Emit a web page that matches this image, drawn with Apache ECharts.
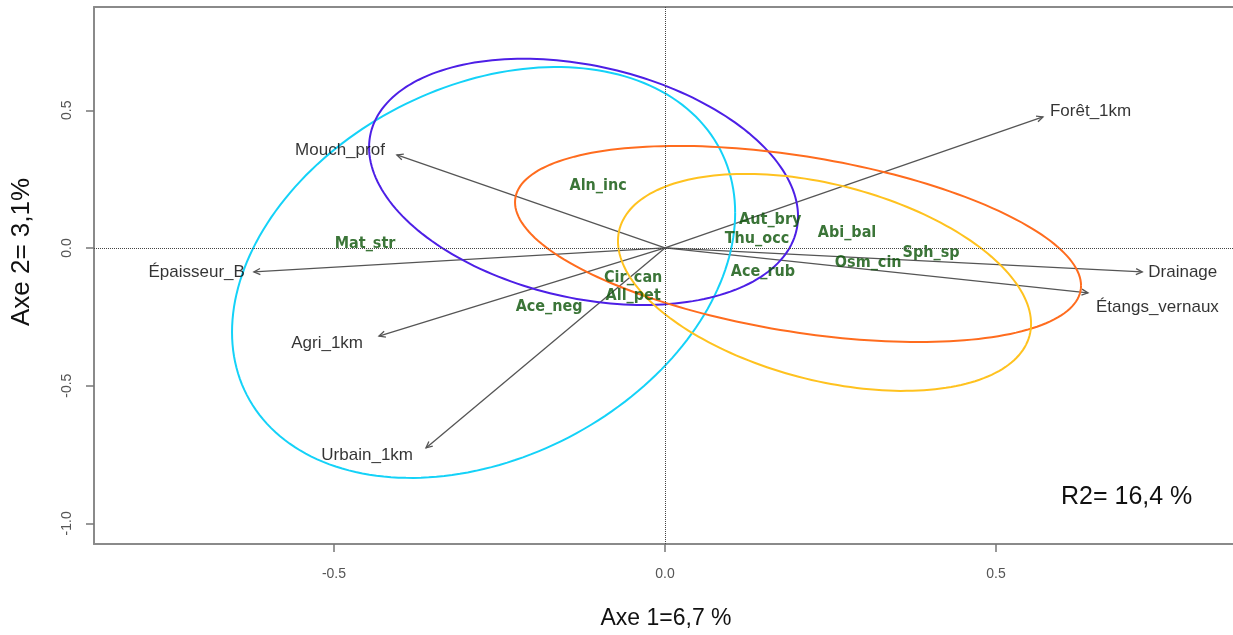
<!DOCTYPE html>
<html>
<head>
<meta charset="utf-8">
<script src="https://cdn.jsdelivr.net/npm/echarts@6/dist/echarts.min.js"></script>
<style>
  html, body { margin: 0; padding: 0; background: #fff; }
  #chart { width: 1233px; height: 635px; }
</style>
</head>
<body>
<div id="chart"></div>
<script>
// ---------- DATA ----------
const xTicks = [-0.5, 0.0, 0.5];
const yTicks = [-1.0, -0.5, 0.0, 0.5];

// Environmental vectors (arrow tips, RDA axes 1 & 2)
const envNames = ['Forêt_1km', 'Mouch_prof', 'Épaisseur_B', 'Agri_1km', 'Urbain_1km', 'Drainage', 'Étangs_vernaux'];
const envX = [0.571, -0.405, -0.621, -0.432, -0.361, 0.721, 0.639];
const envY = [0.476, 0.338, -0.087, -0.320, -0.726, -0.087, -0.163];

// Species scores
const sppNames = ['Aln_inc', 'Mat_str', 'Aut_bry', 'Thu_occ', 'Abi_bal', 'Sph_sp', 'Osm_cin', 'Ace_rub', 'Cir_can', 'All_pet', 'Ace_neg'];
const sppX = [-0.101, -0.453, 0.159, 0.139, 0.275, 0.402, 0.307, 0.148, -0.048, -0.048, -0.175];
const sppY = [0.225, 0.015, 0.102, 0.033, 0.054, -0.018, -0.055, -0.087, -0.109, -0.174, -0.214];

// Group ellipses: centre, half-extent in x and y, correlation
const ellCx = [-0.274, -0.123, 0.201, 0.241];
const ellCy = [-0.089, 0.240, 0.0145, -0.125];
const ellSx = [0.380, 0.324, 0.4275, 0.312];
const ellSy = [0.746, 0.447, 0.356, 0.394];
const ellR  = [0.29, -0.28, -0.425, -0.381];

// ---------- STYLE ----------
const ellColors = ['#14d2f8', '#4d1fe6', '#ff6c1e', '#ffc21f'];
const envLabelPos = [
  { position: 'right', offset: [2, -6] },
  { position: 'left', offset: [-7, -5] },
  { position: 'left', offset: [-4, 0] },
  { position: 'left', offset: [-11, 7] },
  { position: 'left', offset: [-8, 7] },
  { position: 'right', offset: [1, 0] },
  { position: 'right', offset: [3, 14] }
];
const arrowColor = '#555555';
const sppColor = '#0a5206';
const boxLine = { color: '#8a8a8a', width: 2 };

const chart = echarts.init(document.getElementById('chart'), null, { renderer: 'canvas' });

function renderEllipse(params, api) {
  const cx = api.value(0), cy = api.value(1), sx = api.value(2), sy = api.value(3), r = api.value(4);
  const k = Math.sqrt(1 - r * r);
  const pts = [];
  const n = 200;
  for (let j = 0; j <= n; j++) {
    const t = 2 * Math.PI * j / n;
    pts.push(api.coord([cx + sx * Math.cos(t), cy + sy * (r * Math.cos(t) + k * Math.sin(t))]));
  }
  return {
    type: 'polyline',
    shape: { points: pts },
    style: { stroke: ellColors[params.dataIndex], lineWidth: 2, fill: null }
  };
}

function renderArrow(params, api) {
  const p0 = api.coord([0, 0]);
  const p1 = api.coord([api.value(0), api.value(1)]);
  const ang = Math.atan2(p1[1] - p0[1], p1[0] - p0[0]);
  const L = 7, a = Math.PI / 7;
  const h1 = [p1[0] - L * Math.cos(ang - a), p1[1] - L * Math.sin(ang - a)];
  const h2 = [p1[0] - L * Math.cos(ang + a), p1[1] - L * Math.sin(ang + a)];
  return {
    type: 'group',
    children: [
      { type: 'line', shape: { x1: p0[0], y1: p0[1], x2: p1[0], y2: p1[1] }, style: { stroke: arrowColor, lineWidth: 1.3 } },
      { type: 'polyline', shape: { points: [h1, p1, h2] }, style: { stroke: arrowColor, lineWidth: 1.3, fill: null } }
    ]
  };
}

const xMin = -0.8625, pxPerX = 662, gridW = 1139;
const xMax = xMin + gridW / pxPerX;
const option = {
  animation: false,
  backgroundColor: '#ffffff',
  grid: { left: 94, top: 7, width: gridW, height: 537, show: false },
  xAxis: [
    {
      type: 'value', min: xMin, max: xMax, position: 'bottom',
      axisLine: { show: true, onZero: false, lineStyle: boxLine },
      splitLine: { show: false },
      axisTick: { show: true, customValues: xTicks, length: 8, lineStyle: { color: '#777', width: 1.5 } },
      axisLabel: {
        customValues: xTicks, margin: 23, color: '#555', fontSize: 14,
        fontFamily: "'Liberation Sans', Arial, sans-serif",
        formatter: v => v.toFixed(1)
      }
    },
    {
      type: 'value', min: xMin, max: xMax, position: 'top',
      axisLine: { show: true, onZero: false, lineStyle: boxLine },
      splitLine: { show: false }, axisTick: { show: false }, axisLabel: { show: false }
    }
  ],
  yAxis: {
    type: 'value', min: -1.075, max: 0.875,
    axisLine: { show: true, onZero: false, lineStyle: boxLine },
    splitLine: { show: false },
    axisTick: { show: true, customValues: yTicks, length: 8, lineStyle: { color: '#777', width: 1.5 } },
    axisLabel: {
      customValues: yTicks, margin: 20, rotate: 90, color: '#555', fontSize: 14,
      fontFamily: "'Liberation Sans', Arial, sans-serif",
      formatter: v => v.toFixed(1)
    }
  },
  graphic: [
    { type: 'text', x: 666, y: 619, style: { text: 'Axe 1=6,7 %', fill: '#111', font: "23px 'Liberation Sans', sans-serif", textAlign: 'center', textVerticalAlign: 'middle' } },
    { type: 'text', x: 22, y: 252, rotation: Math.PI / 2, style: { text: 'Axe 2= 3,1%', fill: '#111', font: "26px 'Liberation Sans', sans-serif", textAlign: 'center', textVerticalAlign: 'middle' } },
    { type: 'text', x: 1061, y: 497, style: { text: 'R2= 16,4 %', fill: '#111', font: "25px 'Liberation Sans', sans-serif", textAlign: 'left', textVerticalAlign: 'middle' } }
  ],
  series: [
    {
      type: 'line', data: [], silent: true,
      markLine: {
        silent: true, symbol: 'none', label: { show: false },
        lineStyle: { color: '#444', type: 'dotted', width: 1 },
        data: [{ xAxis: 0 }, { yAxis: 0 }]
      }
    },
    {
      type: 'custom', renderItem: renderArrow, silent: true,
      encode: { x: 0, y: 1 },
      data: envX.map((x, i) => [x, envY[i]])
    },
    {
      type: 'custom', renderItem: renderEllipse, silent: true,
      encode: { x: 0, y: 1 },
      data: ellCx.map((c, i) => [c, ellCy[i], ellSx[i], ellSy[i], ellR[i]])
    },
    {
      type: 'scatter', symbolSize: 0, silent: true,
      data: envNames.map((n, i) => ({
        value: [envX[i], envY[i]], name: n,
        label: Object.assign({ show: true, formatter: n, color: '#000', fontSize: 17, fontFamily: "'Liberation Sans', Arial, sans-serif", distance: 5 }, envLabelPos[i])
      }))
    },
    {
      type: 'scatter', symbolSize: 0, silent: true,
      data: sppNames.map((n, i) => ({
        value: [sppX[i], sppY[i]], name: n,
        label: { show: true, position: 'inside', formatter: n, color: sppColor, fontSize: 16, fontWeight: 'bold', fontFamily: "'DejaVu Sans Condensed', 'Liberation Sans', sans-serif" }
      }))
    }
  ]
};
chart.setOption(option);
</script>
</body>
</html>
